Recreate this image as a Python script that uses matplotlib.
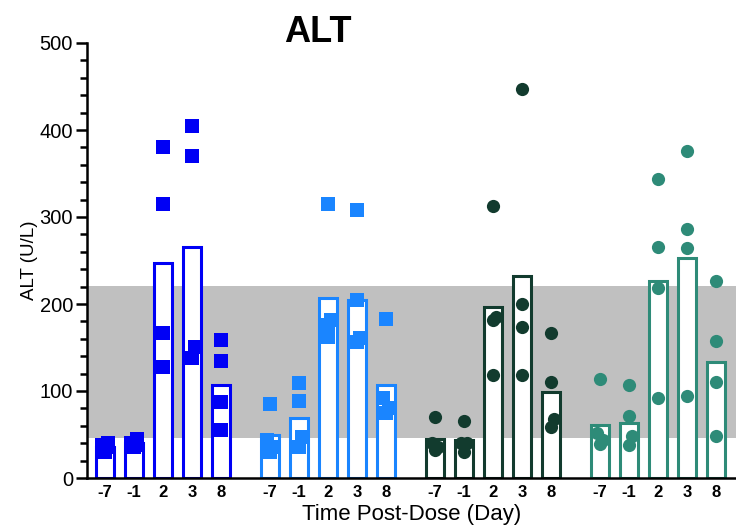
import numpy as np
import matplotlib
matplotlib.use('Agg')
import matplotlib.pyplot as plt

plt.rcParams['font.family'] = ['Liberation Sans', 'DejaVu Sans']

# Time points (days) and groups
days = ['-7', '-1', '2', '3', '8']
group_colors = ['#0000F5', '#1A85FF', '#123B2E', '#2E8B78']
group_markers = ['s', 's', 'o', 'o']

# bar heights (group means)
bars_g1 = [36, 40, 247, 266, 107]
bars_g2 = [49, 69, 207, 205, 107]
bars_g3 = [45, 44, 197, 232, 99]
bars_g4 = [61, 63, 226, 253, 133]

# individual animal values per day
pts_g1 = [[30, 38, 40, 36], [36, 45, 40, 38], [381, 315, 167, 128],
          [405, 370, 151, 138], [159, 134, 87, 55]]
pts_g2 = [[85, 44, 36, 30], [109, 88, 47, 36], [315, 182, 176, 162],
          [308, 205, 161, 156], [183, 92, 80, 75]]
pts_g3 = [[70, 40, 36, 32], [65, 40, 30, 40], [313, 185, 182, 118],
          [447, 200, 174, 118], [167, 110, 59, 68]]
pts_g4 = [[114, 52, 39, 44], [107, 71, 48, 38], [344, 265, 218, 92],
          [376, 286, 264, 94], [226, 157, 110, 48]]

# normal reference range
ref_low, ref_high = 46, 221

bars = [bars_g1, bars_g2, bars_g3, bars_g4]
points = [pts_g1, pts_g2, pts_g3, pts_g4]


def spread(vals, gap=14, step=0.1):
    # small horizontal offsets so that close points do not hide each other
    order = np.argsort(vals)
    offs = np.zeros(len(vals))
    run = 0
    for k in range(1, len(order)):
        if vals[order[k]] - vals[order[k - 1]] < gap:
            run += 1
            offs[order[k]] = step if run % 2 else -step
        else:
            run = 0
    return offs


fig = plt.figure(figsize=(7.36, 5.32), dpi=100)
ax = fig.add_axes([87 / 736, 1 - 478 / 532, 1 - 87 / 736, (478 - 43) / 532])

group_step = 165 / 29
xticks = []
for g in range(4):
    xs = np.arange(5) + g * group_step
    xticks.extend(xs)
    ax.bar(xs, bars[g], width=0.6, color='white', edgecolor=group_colors[g],
           linewidth=2.2, zorder=3)
    for i, vals in enumerate(points[g]):
        offs = spread(vals)
        ax.plot(xs[i] + offs, vals, linestyle='none', marker=group_markers[g],
                markersize=10 if group_markers[g] == 's' else 9.5,
                color=group_colors[g], markeredgewidth=0, zorder=4, clip_on=False)

ax.axhspan(ref_low, ref_high, color='#C0C0C0', zorder=1, linewidth=0)

ax.set_xlim(-0.62, 21.76)
ax.set_ylim(0, 500)
ax.set_xticks(xticks)
ax.set_xticklabels(days * 4, fontsize=12, fontweight='bold')
ax.tick_params(axis='x', length=0, pad=5)
ax.set_yticks([0, 100, 200, 300, 400, 500])
ax.set_yticks(np.arange(0, 501, 20), minor=True)
ax.tick_params(axis='y', which='major', length=8, width=1.8, labelsize=14.5, pad=2)
ax.tick_params(axis='y', which='minor', length=5, width=1.8)

for s in ['top', 'right']:
    ax.spines[s].set_visible(False)
for s in ['left', 'bottom']:
    ax.spines[s].set_linewidth(1.8)
    ax.spines[s].set_zorder(5)

ax.set_ylabel('ALT (U/L)', fontsize=13.5, labelpad=1)
ax.set_xlabel('Time Post-Dose (Day)', fontsize=16, labelpad=3)
fig.text(318 / 736, 1 - 33 / 532, 'ALT', fontsize=26, fontweight='bold',
         ha='center', va='center')

fig.savefig('out.png', dpi=100)
